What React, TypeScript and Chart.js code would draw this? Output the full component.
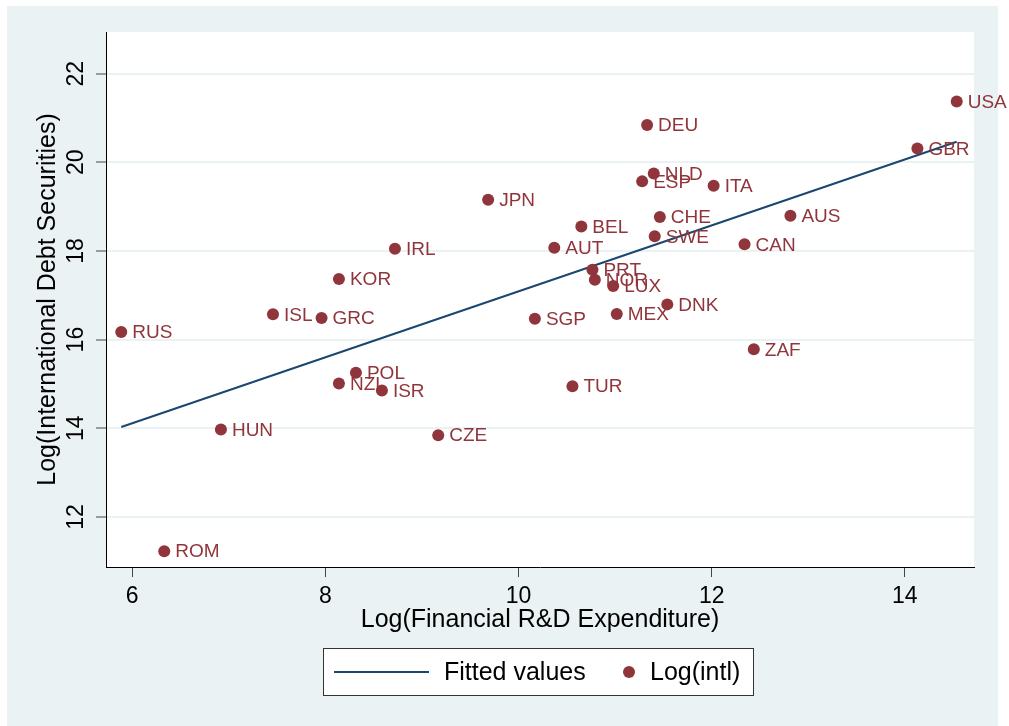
import React, { useEffect, useRef } from "react";
import { Chart, registerables } from "chart.js";

Chart.register(...registerables);

// ---- data ----
const countries = [
  "USA", "GBR", "DEU", "NLD", "ESP", "ITA", "CHE", "BEL", "SWE", "AUT", "CAN",
  "AUS", "PRT", "NOR", "LUX", "DNK", "MEX", "ZAF", "SGP", "TUR", "JPN", "IRL",
  "CZE", "KOR", "ISL", "GRC", "RUS", "HUN", "POL", "NZL", "ISR", "ROM",
];
const logRdExpenditure = [
  14.537, 14.13, 11.331, 11.4, 11.28, 12.02, 11.463, 10.65, 11.41, 10.37, 12.34,
  12.815, 10.765, 10.79, 10.98, 11.54, 11.017, 12.436, 10.169, 10.558, 9.685, 8.72,
  9.168, 8.14, 7.457, 7.96, 5.886, 6.918, 8.316, 8.14, 8.585, 6.331,
];
const logIntlDebt = [
  21.37, 20.31, 20.84, 19.75, 19.57, 19.47, 18.765, 18.55, 18.33, 18.07, 18.15,
  18.795, 17.576, 17.35, 17.21, 16.795, 16.58, 15.78, 16.47, 14.95, 19.156, 18.05,
  13.844, 17.366, 16.57, 16.485, 16.17, 13.97, 15.25, 15.01, 14.85, 11.226,
];
const fittedX = [5.886, 14.537];
const fittedY = [14.03, 20.465];
const xTickValues = [6, 8, 10, 12, 14];
const yTickValues = [12, 14, 16, 18, 20, 22];
const xRange = [5.728, 14.716];
const yRange = [10.87, 22.94];
const seriesNames = ["Fitted values", "Log(intl)"];
const xTitle = "Log(Financial R&D Expenditure)";
const yTitle = "Log(International Debt Securities)";

const FONT = "'Liberation Sans', Arial, sans-serif";
const LINE_COLOR = "#1A476F";
const MARKER_COLOR = "#90353B";
const BG = "#EAF2F3";

export default function App() {
  const ref = useRef<HTMLCanvasElement | null>(null);

  useEffect(() => {
    if (!ref.current) return;

    const bgPlugin = {
      id: "stataBg",
      beforeDraw(chart: any) {
        const { ctx, chartArea } = chart;
        ctx.save();
        ctx.fillStyle = BG;
        ctx.fillRect(7, 6, 991, 720);
        ctx.fillStyle = "#ffffff";
        ctx.fillRect(chartArea.left, chartArea.top, chartArea.right - chartArea.left, chartArea.bottom - chartArea.top);
        ctx.restore();
      },
    };

    const labelPlugin = {
      id: "pointLabels",
      afterDatasetsDraw(chart: any) {
        const { ctx } = chart;
        const meta = chart.getDatasetMeta(1);
        ctx.save();
        ctx.font = `19px ${FONT}`;
        ctx.fillStyle = MARKER_COLOR;
        ctx.textAlign = "left";
        ctx.textBaseline = "middle";
        meta.data.forEach((el: any, i: number) => {
          ctx.fillText(countries[i], el.x + 11, el.y + 1);
        });
        ctx.restore();
      },
    };

    const legendPlugin = {
      id: "boxLegend",
      afterDraw(chart: any) {
        const { ctx } = chart;
        const ds = chart.data.datasets;
        ctx.save();
        ctx.fillStyle = "#ffffff";
        ctx.fillRect(323.5, 648.5, 430, 47);
        ctx.strokeStyle = "#333333";
        ctx.lineWidth = 1;
        ctx.strokeRect(323.5, 648.5, 430, 47);
        const cy = 672;
        ctx.strokeStyle = ds[0].borderColor;
        ctx.lineWidth = 2;
        ctx.beginPath();
        ctx.moveTo(334, cy);
        ctx.lineTo(429, cy);
        ctx.stroke();
        ctx.font = `25px ${FONT}`;
        ctx.fillStyle = "#000000";
        ctx.textBaseline = "middle";
        ctx.textAlign = "left";
        ctx.fillText(ds[0].label, 444, cy + 1);
        ctx.fillStyle = ds[1].backgroundColor;
        ctx.beginPath();
        ctx.arc(629, cy, 6, 0, Math.PI * 2);
        ctx.fill();
        ctx.fillStyle = "#000000";
        ctx.fillText(ds[1].label, 650, cy + 1);
        ctx.restore();
      },
    };

    const chart = new Chart(ref.current, {
      type: "scatter",
      data: {
        datasets: [
          {
            type: "line",
            label: seriesNames[0],
            data: fittedX.map((x, i) => ({ x, y: fittedY[i] })),
            borderColor: LINE_COLOR,
            backgroundColor: LINE_COLOR,
            borderWidth: 2,
            pointRadius: 0,
            fill: false,
            order: 2,
          } as any,
          {
            type: "scatter",
            label: seriesNames[1],
            data: logRdExpenditure.map((x, i) => ({ x, y: logIntlDebt[i] })),
            backgroundColor: MARKER_COLOR,
            borderColor: MARKER_COLOR,
            borderWidth: 0,
            pointRadius: 6,
            order: 1,
          },
        ],
      },
      options: {
        responsive: false,
        animation: false,
        layout: { padding: { left: 0, right: 35, top: 32, bottom: 86 } },
        plugins: {
          legend: { display: false },
          tooltip: { enabled: false },
        },
        scales: {
          x: {
            type: "linear",
            position: "bottom",
            min: xRange[0],
            max: xRange[1],
            afterBuildTicks: (s: any) => {
              s.ticks = xTickValues.map((v) => ({ value: v }));
            },
            afterFit: (s: any) => {
              s.height = 73;
            },
            ticks: {
              autoSkip: false,
              color: "#000000",
              font: { family: FONT, size: 23 },
              padding: 6,
              maxRotation: 0,
              minRotation: 0,
            },
            grid: {
              drawOnChartArea: false,
              drawTicks: true,
              tickLength: 10,
              tickColor: "#444444",
              tickWidth: 1,
            },
            border: { display: true, color: "#000000", width: 1 },
            title: {
              display: true,
              text: xTitle,
              color: "#000000",
              font: { family: FONT, size: 25 },
              padding: { top: 0, bottom: 5 },
            },
          },
          y: {
            type: "linear",
            min: yRange[0],
            max: yRange[1],
            afterBuildTicks: (s: any) => {
              s.ticks = yTickValues.map((v) => ({ value: v }));
            },
            afterFit: (s: any) => {
              s.width = 106;
            },
            ticks: {
              autoSkip: false,
              color: "#000000",
              font: { family: FONT, size: 23 },
              padding: 7,
              minRotation: 90,
              maxRotation: 90,
              crossAlign: "center",
            },
            grid: {
              drawOnChartArea: true,
              color: BG,
              lineWidth: 2,
              drawTicks: true,
              tickLength: 10,
              tickColor: "#444444",
              tickWidth: 1,
            },
            border: { display: true, color: "#000000", width: 1 },
            title: {
              display: true,
              text: yTitle,
              color: "#000000",
              font: { family: FONT, size: 25 },
              padding: { top: 33, bottom: 33 },
            },
          },
        },
      },
      plugins: [bgPlugin, labelPlugin, legendPlugin],
    });

    return () => chart.destroy();
  }, []);

  return (
    <div style={{ position: "fixed", left: 0, top: 0, width: 1009, height: 726 }}>
      <canvas ref={ref} width={1009} height={726} style={{ display: "block", width: 1009, height: 726 }} />
    </div>
  );
}
